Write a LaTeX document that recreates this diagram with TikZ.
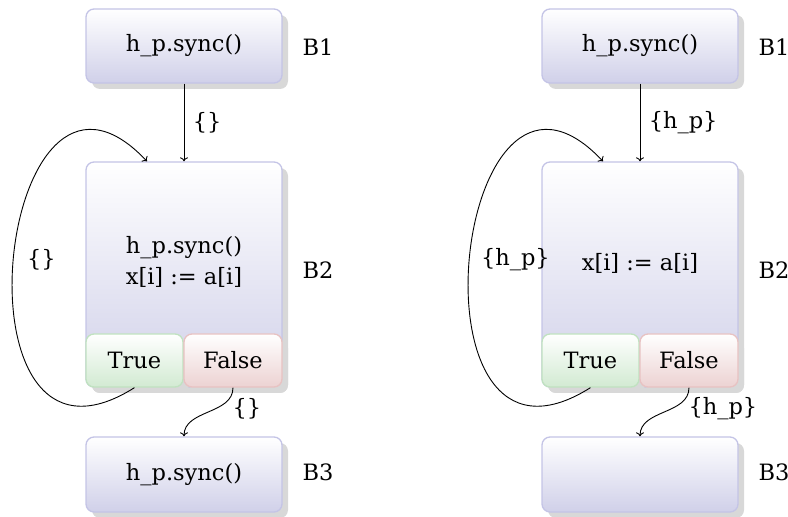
\documentclass[tikz,border=0pt]{standalone}
\usepackage{fontspec}
\setmainfont{DejaVu Serif}
\usetikzlibrary{shadows, positioning, arrows.meta}

\definecolor{blkline}{RGB}{196,196,230}
\definecolor{blkbot}{RGB}{208,208,233}
\definecolor{trueline}{RGB}{192,226,192}
\definecolor{truebot}{RGB}{210,234,210}
\definecolor{falseline}{RGB}{232,194,194}
\definecolor{falsebot}{RGB}{236,210,210}
\definecolor{shadowgray}{RGB}{216,216,216}

\tikzset{
  block/.style={rounded corners=8pt, draw=blkline, line width=1.3pt,
    top color=white, bottom color=blkbot, inner sep=0pt,
    drop shadow={shadow xshift=6pt, shadow yshift=-6pt, fill=shadowgray, opacity=1}},
  truebox/.style={block, draw=trueline, bottom color=truebot},
  falsebox/.style={block, draw=falseline, bottom color=falsebot},
  flow/.style={-{To[length=4pt, width=8pt]}, line width=0.9pt},
}

\begin{document}
\begin{tikzpicture}[x=1pt, y=1pt, font=\fontsize{22.5}{31}\selectfont]
    \useasboundingbox (0,0) rectangle (788,517);

    % sync inside the loop body
    \begin{scope}[name prefix=l-]
        \node[block, minimum width=196pt, minimum height=74pt] (b1) at (184,471) {h\_p.sync()};
        \node (n1) at (318,470) {B1};
        \node[block, minimum width=196pt, minimum height=225pt] (b2) at (184,242.5) {};
        \node[align=center] (c2) at (184,255) {h\_p.sync()\\x[i] := a[i]};
        \node[truebox, minimum width=97pt, minimum height=53pt] (t2) at (134.5,156.5) {True};
        \node[falsebox, minimum width=98pt, minimum height=53pt] (f2) at (233,156.5) {False};
        \node (n2) at (318,247) {B2};
        \node[block, minimum width=196pt, minimum height=75pt] (b3) at (184,42.5) {h\_p.sync()};
        \node (n3) at (318,45) {B3};
        \coordinate (in2) at ([xshift=-37pt]b2.north);

        \draw[flow] (b1.south) -- node[right=5pt] (e1) {\{\}} (b2.north);
        \draw[flow] (t2.south) .. controls +(-190,-120) and +(-150,160) .. (in2)
            node[pos=0.5, right=10pt] (e2) {\{\}};
        \draw[flow] (f2.south) to[out=-90, in=90] node[pos=0.4, right=13pt] (e3) {\{\}} (b3.north);
    \end{scope}

    % sync hoisted out of the loop
    \begin{scope}[shift={(456,0)}, name prefix=r-]
        \node[block, minimum width=196pt, minimum height=74pt] (b1) at (184,471) {h\_p.sync()};
        \node (n1) at (318,470) {B1};
        \node[block, minimum width=196pt, minimum height=225pt] (b2) at (184,242.5) {};
        \node (c2) at (184,254) {x[i] := a[i]};
        \node[truebox, minimum width=97pt, minimum height=53pt] (t2) at (134.5,156.5) {True};
        \node[falsebox, minimum width=98pt, minimum height=53pt] (f2) at (233,156.5) {False};
        \node (n2) at (318,247) {B2};
        \node[block, minimum width=196pt, minimum height=75pt] (b3) at (184,42.5) {};
        \node (n3) at (318,45) {B3};
        \coordinate (in2) at ([xshift=-37pt]b2.north);

        \draw[flow] (b1.south) -- node[right=5pt] (e1) {\{h\_p\}} (b2.north);
        \draw[flow] (t2.south) .. controls +(-190,-120) and +(-150,160) .. (in2)
            node[pos=0.5, right=8pt] (e2) {\{h\_p\}};
        \draw[flow] (f2.south) to[out=-90, in=90] node[pos=0.4, right=13pt] (e3) {\{h\_p\}} (b3.north);
    \end{scope}
\end{tikzpicture}
\end{document}
